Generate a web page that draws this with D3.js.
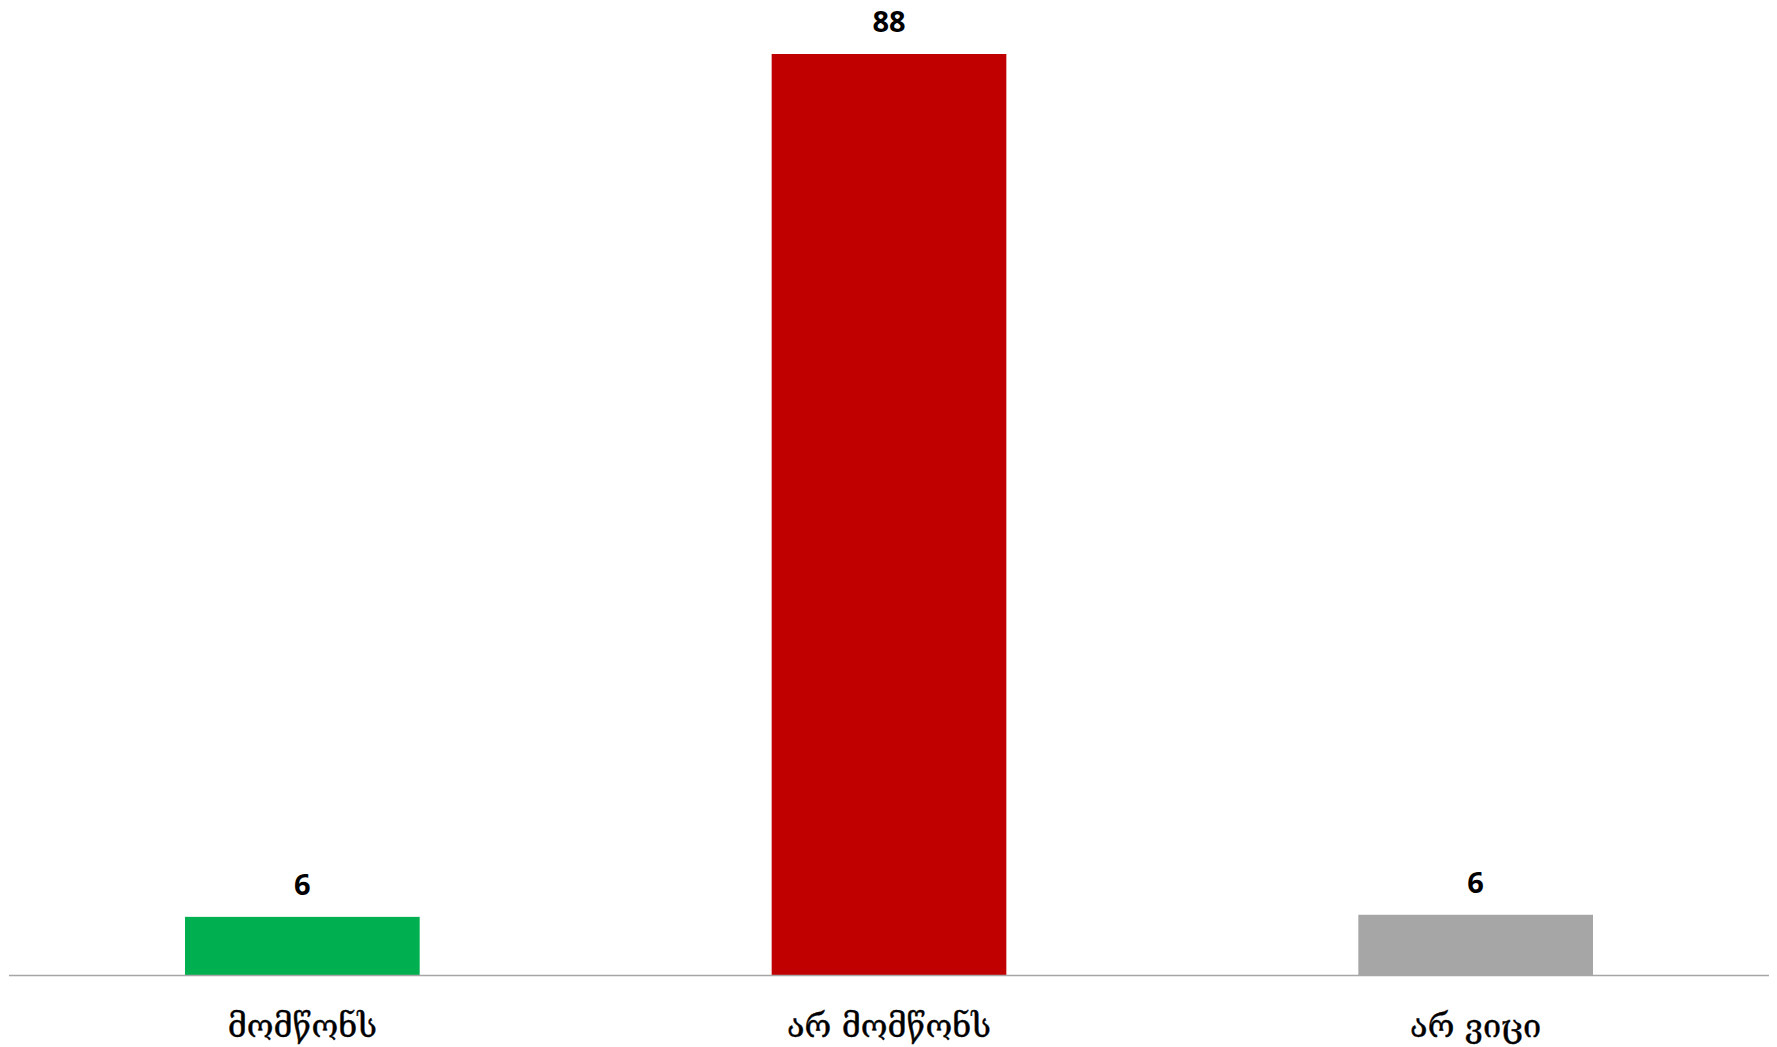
<!DOCTYPE html>
<html>
<head>
<meta charset="utf-8">
<script src="https://cdn.jsdelivr.net/npm/d3@7"></script>
<style>
  html, body { margin: 0; padding: 0; background: #fff; }
  svg { display: block; }
</style>
</head>
<body>
<svg id="chart" width="1777" height="1047"></svg>
<script>
const categories = ["მომწონს", "არ მომწონს", "არ ვიცი"];
const values = [5.6, 88, 5.8];
const colors = ["#00b050", "#c00000", "#a6a6a6"];

const W = 1777, H = 1047;
const svg = d3.select("#chart");

const x = d3.scaleBand()
  .domain(categories)
  .range([9, 1769])
  .paddingInner(0.6)
  .paddingOuter(0.3);

const y = d3.scaleLinear()
  .domain([0, 88])
  .range([975.5, 54]);

svg.selectAll("rect.bar")
  .data(values)
  .enter().append("rect")
  .attr("class", "bar")
  .attr("x", (d, i) => x(categories[i]))
  .attr("width", x.bandwidth())
  .attr("y", d => y(d))
  .attr("height", d => y(0) - y(d))
  .attr("fill", (d, i) => colors[i]);

// axis line
const xAxis = d3.axisBottom(x).tickSize(0).tickPadding(0).tickFormat("");
const gx = svg.append("g").attr("transform", `translate(0,${y(0)})`).call(xAxis);
gx.select(".domain").attr("stroke", "#a6a6a6").attr("stroke-width", 1.5)
  .attr("d", `M9,0H1769`);

// category labels
svg.selectAll("text.cat")
  .data(categories)
  .enter().append("text")
  .attr("class", "cat")
  .attr("x", d => x(d) + x.bandwidth() / 2)
  .attr("y", 1037)
  .attr("text-anchor", "middle")
  .attr("font-family", "'DejaVu Serif', serif")
  .attr("font-size", 32.5)
  .attr("fill", "#000")
  .attr("stroke", "#000")
  .attr("stroke-width", 0.4)
  .text(d => d);

// value labels
const fmt = d3.format(".0f");
svg.selectAll("text.val")
  .data(values)
  .enter().append("text")
  .attr("class", "val")
  .attr("x", (d, i) => x(categories[i]) + x.bandwidth() / 2)
  .attr("y", d => y(d) - 22)
  .attr("text-anchor", "middle")
  .attr("font-family", "'Open Sans', Lato, sans-serif")
  .attr("font-weight", "bold")
  .attr("font-size", 29)
  .attr("fill", "#000")
  .text(d => fmt(d));
</script>
</body>
</html>
